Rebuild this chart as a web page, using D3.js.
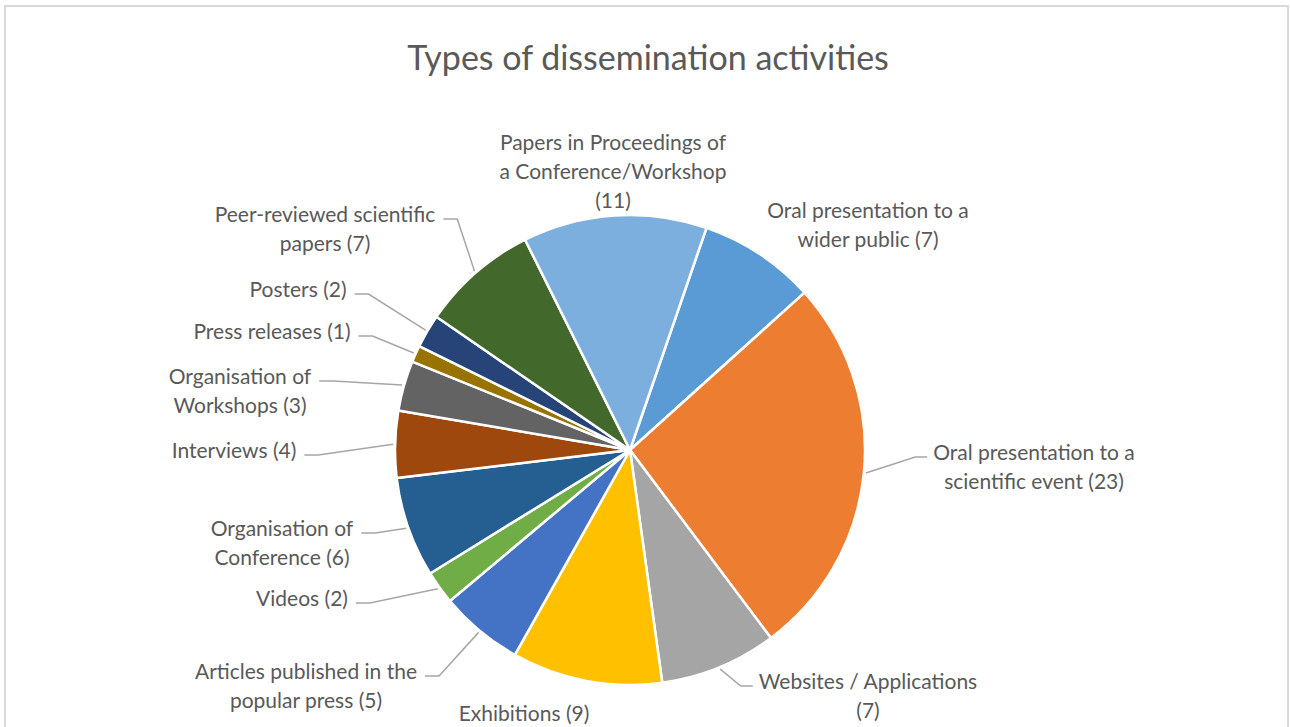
<!DOCTYPE html>
<html>
<head>
<meta charset="utf-8">
<script src="https://cdn.jsdelivr.net/npm/d3@7"></script>
<style>
	body { margin: 0; background: #fff; }
	svg { display: block; font-family: Lato, "Open Sans", sans-serif; }
</style>
</head>
<body>
<script>
// Slice values, clockwise from the first slice
const categories = [
	"Oral presentation to a wider public",
	"Oral presentation to a scientific event",
	"Websites / Applications",
	"Exhibitions",
	"Articles published in the popular press",
	"Videos",
	"Organisation of Conference",
	"Interviews",
	"Organisation of Workshops",
	"Press releases",
	"Posters",
	"Peer-reviewed scientific papers",
	"Papers in Proceedings of a Conference/Workshop"
];
const values = [7, 23, 7, 9, 5, 2, 6, 4, 3, 1, 2, 7, 11];
const colors = ["#5b9bd5", "#ed7d31", "#a5a5a5", "#ffc000", "#4472c4", "#70ad47",
	"#255e91", "#9e480e", "#636363", "#997300", "#264478", "#43682b", "#7cafdd"];

// Label text, line by line (count added below)
const labelLines = [
	["Oral presentation to a", "wider public"],
	["Oral presentation to a", "scientific event"],
	["Websites / Applications", ""],
	["Exhibitions"],
	["Articles published in the", "popular press"],
	["Videos"],
	["Organisation of", "Conference"],
	["Interviews"],
	["Organisation of", "Workshops"],
	["Press releases"],
	["Posters"],
	["Peer-reviewed scientific", "papers"],
	["Papers in Proceedings of", "a Conference/Workshop", ""]
];

const w = 1290;
const h = 727;
const cx = 630, cy = 450, radius = 235;
const startDeg = 19;

const svg = d3.select("body").append("svg").attr("width", w).attr("height", h);

// Chart border
svg.append("rect")
	.attr("x", 5).attr("y", 6)
	.attr("width", 1283).attr("height", 740)
	.attr("fill", "none")
	.attr("stroke", "#d9d9d9")
	.attr("stroke-width", 2);

// Title
svg.append("text")
	.attr("x", 648).attr("y", 56)
	.attr("text-anchor", "middle")
	.attr("dominant-baseline", "central")
	.attr("fill", "#595959")
	.attr("font-size", 34)
	.text("Types of dissemination activities");

const pie = d3.pie()
	.sort(null)
	.startAngle(startDeg * Math.PI / 180)
	.endAngle(startDeg * Math.PI / 180 + 2 * Math.PI);

const arc = d3.arc().innerRadius(0).outerRadius(radius);

const arcs = pie(values);

const g = svg.append("g").attr("transform", `translate(${cx},${cy})`);

g.selectAll("path")
	.data(arcs)
	.enter()
	.append("path")
	.attr("d", arc)
	.attr("fill", (d, i) => colors[i])
	.attr("stroke", "#fff")
	.attr("stroke-width", 2.5)
	.attr("stroke-linejoin", "round");

// Label placement: text centre x, first line centre y, leader side
const labelPos = [
	[868, 209, null],
	[1034, 451, "right"],
	[868, 680, "right"],
	[524, 712, null],
	[306, 670, "left"],
	[302, 597, "left"],
	[282, 527, "left"],
	[234, 449, "left"],
	[240, 375, "left"],
	[272, 330, "left"],
	[298, 288, "left"],
	[325, 213, "left"],
	[613, 141, null]
];
const lineH = 29;

const labels = svg.append("g")
	.attr("fill", "#595959")
	.attr("font-size", 21);

arcs.forEach((d, i) => {
	const lines = labelLines[i].slice();
	const last = lines.length - 1;
	const count = `(${values[i]})`;
	lines[last] = lines[last] ? `${lines[last]} ${count}` : count;

	const [tx, ty, side] = labelPos[i];
	const t = labels.append("text")
		.attr("text-anchor", "middle")
		.attr("dominant-baseline", "central");
	lines.forEach((s, k) => {
		t.append("tspan").attr("x", tx).attr("y", ty + k * lineH).text(s);
	});

	if (!side) return;
	// leader line from the slice edge to the first line of the label
	const firstW = t.select("tspan").node().getComputedTextLength();
	const mid = (d.startAngle + d.endAngle) / 2;
	const sx = cx + (radius + 2) * Math.sin(mid);
	const sy = cy - (radius + 2) * Math.cos(mid);
	const ly = ty + 6;
	let endX, elbowX;
	if (side === "left") {
		endX = tx + firstW / 2 + 8;
		elbowX = endX + 14;
	} else {
		endX = tx - firstW / 2 - 6;
		elbowX = endX - 12;
	}
	svg.append("polyline")
		.attr("points", `${sx},${sy} ${elbowX},${ly} ${endX},${ly}`)
		.attr("fill", "none")
		.attr("stroke", "#a6a6a6")
		.attr("stroke-width", 1.5);
});
</script>
</body>
</html>
